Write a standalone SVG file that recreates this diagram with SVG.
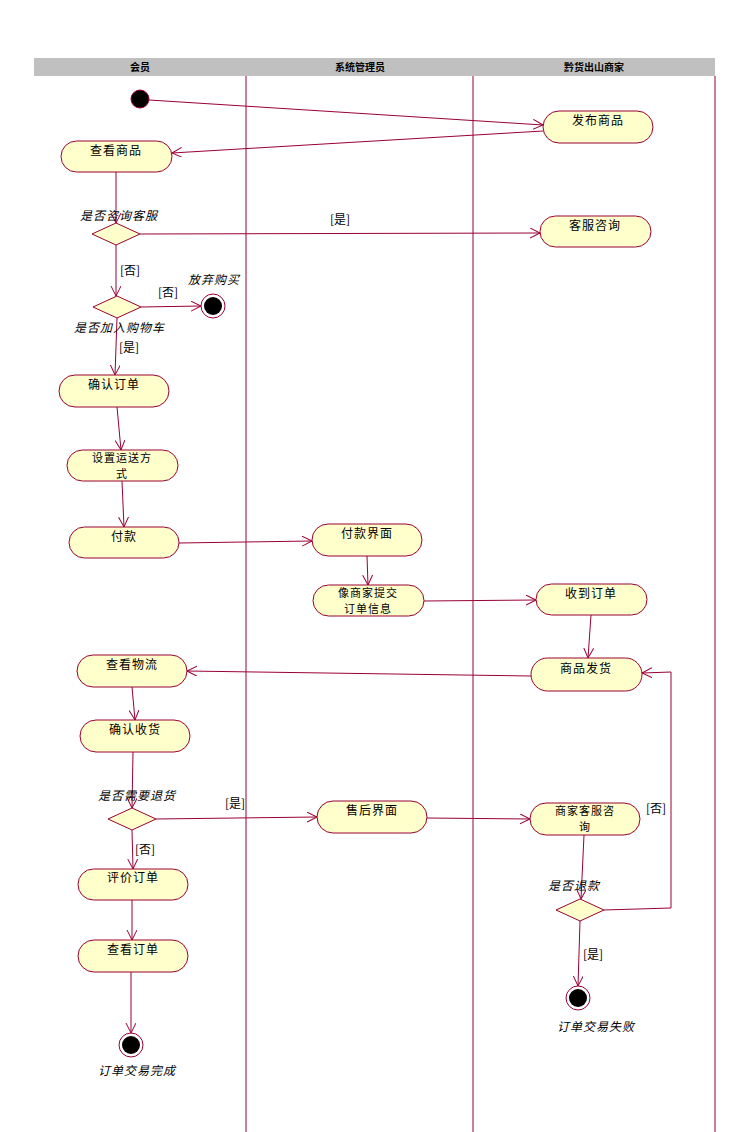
<svg xmlns="http://www.w3.org/2000/svg" width="750" height="1132" viewBox="0 0 750 1132">
<style>
text{font-family:"Noto Sans CJK SC","Liberation Sans",sans-serif;fill:#000}
.n{fill:#ffffcc;stroke:#990033;stroke-width:1}
.t{font-size:12px;text-anchor:middle;letter-spacing:1px}
.t2{font-size:11px;text-anchor:middle;letter-spacing:1px}
.h{font-size:10px;font-weight:bold;text-anchor:middle}
.i{font-size:12px;font-style:italic;letter-spacing:1px}
.l{font-size:12px}
.e{fill:none;stroke:#990033;stroke-width:1;marker-end:url(#a)}
.lane{stroke:#990033;stroke-width:1}
</style>
<defs>
<marker id="a" markerWidth="12" markerHeight="12" refX="10" refY="5" orient="auto" markerUnits="userSpaceOnUse">
<path d="M0,0 L10,5 L0,10" fill="none" stroke="#990033"/>
</marker>
</defs>
<rect width="750" height="1132" fill="#fff"/>
<g id="lanes">
<rect x="34" y="58" width="681" height="18" fill="#c0c0c0"/>
<text class="h" x="140" y="71">会员</text>
<text class="h" x="360" y="71">系统管理员</text>
<text class="h" x="594" y="71">黔货出山商家</text>
<line class="lane" x1="246" y1="76" x2="246" y2="1132"/>
<line class="lane" x1="473" y1="76" x2="473" y2="1132"/>
<line class="lane" x1="715" y1="76" x2="715" y2="1132"/>
</g>
<g id="connectors">
<path class="e" d="M149,100 L543,125"/>
<path class="e" d="M543,131 L172,153"/>
<path class="e" d="M116,172 L116,223"/>
<path class="e" d="M140,234 L540,233"/>
<path class="e" d="M116,245 L116,296"/>
<path class="e" d="M141,307 L201,306"/>
<path class="e" d="M117,318 L115,375"/>
<path class="e" d="M117,407 L121,450"/>
<path class="e" d="M122,481 L124,527"/>
<path class="e" d="M179,543 L312,541"/>
<path class="e" d="M367,556 L368,585"/>
<path class="e" d="M424,601 L536,600"/>
<path class="e" d="M591,615 L588,658"/>
<path class="e" d="M531,676 L187,671"/>
<path class="e" d="M132,687 L135,720"/>
<path class="e" d="M133,752 L132,808"/>
<path class="e" d="M156,819 L317,817"/>
<path class="e" d="M427,818 L530,819"/>
<path class="e" d="M132,830 L133,869"/>
<path class="e" d="M584,835 L581,899"/>
<path class="e" d="M604,910 L671,908 L671,672 L642,673"/>
<path class="e" d="M580,921 L578,986"/>
<path class="e" d="M132,900 L132,940"/>
<path class="e" d="M131,972 L131,1033"/>
<text class="l" x="330" y="224">[是]</text>
<text class="l" x="120" y="275">[否]</text>
<text class="l" x="158" y="297">[否]</text>
<text class="l" x="119" y="352">[是]</text>
<text class="l" x="225" y="808">[是]</text>
<text class="l" x="135" y="854">[否]</text>
<text class="l" x="646" y="813">[否]</text>
<text class="l" x="583" y="959">[是]</text>
</g>
<g id="start"><circle cx="140" cy="99" r="9" fill="#000" stroke="#990033"/></g>
<g id="n1"><rect class="n" x="61" y="141" width="111" height="31" rx="15.5"/><text class="t" x="116" y="155">查看商品</text></g>
<g id="n2"><rect class="n" x="543" y="111" width="110" height="32" rx="16"/><text class="t" x="598" y="125">发布商品</text></g>
<g id="n3"><rect class="n" x="540" y="216" width="111" height="31" rx="15.5"/><text class="t" x="595" y="230">客服咨询</text></g>
<g id="d1"><polygon class="n" points="92,234 116,223 140,234 116,245"/><text class="i" x="80" y="220">是否咨询客服</text></g>
<g id="d2"><polygon class="n" points="93,307 117,296 141,307 117,318"/><text class="i" x="74" y="332">是否加入购物车</text></g>
<g id="f1"><circle cx="213" cy="306" r="12" fill="#fff" stroke="#990033"/><circle cx="213" cy="306" r="9" fill="#000"/><text class="i" x="188" y="284">放弃购买</text></g>
<g id="n4"><rect class="n" x="59" y="375" width="110" height="32" rx="16"/><text class="t" x="114" y="389">确认订单</text></g>
<g id="n5"><rect class="n" x="67" y="450" width="111" height="31" rx="15.5"/><text class="t2" x="122" y="462">设置运送方</text><text class="t2" x="122" y="478">式</text></g>
<g id="n6"><rect class="n" x="69" y="527" width="110" height="31" rx="15.5"/><text class="t" x="124" y="541">付款</text></g>
<g id="n7"><rect class="n" x="312" y="524" width="110" height="32" rx="16"/><text class="t" x="367" y="538">付款界面</text></g>
<g id="n8"><rect class="n" x="313" y="585" width="111" height="31" rx="15.5"/><text class="t2" x="368" y="597">像商家提交</text><text class="t2" x="368" y="613">订单信息</text></g>
<g id="n9"><rect class="n" x="536" y="584" width="111" height="31" rx="15.5"/><text class="t" x="591" y="598">收到订单</text></g>
<g id="n10"><rect class="n" x="77" y="655" width="110" height="32" rx="16"/><text class="t" x="132" y="669">查看物流</text></g>
<g id="n11"><rect class="n" x="531" y="658" width="111" height="33" rx="16.5"/><text class="t" x="586" y="673">商品发货</text></g>
<g id="n12"><rect class="n" x="80" y="720" width="110" height="32" rx="16"/><text class="t" x="135" y="734">确认收货</text></g>
<g id="d3"><polygon class="n" points="108,819 132,808 156,819 132,830"/><text class="i" x="98" y="800">是否需要退货</text></g>
<g id="n13"><rect class="n" x="317" y="801" width="110" height="32" rx="16"/><text class="t" x="372" y="815">售后界面</text></g>
<g id="n14"><rect class="n" x="530" y="803" width="110" height="32" rx="16"/><text class="t2" x="585" y="815">商家客服咨</text><text class="t2" x="585" y="831">询</text></g>
<g id="n15"><rect class="n" x="78" y="869" width="110" height="31" rx="15.5"/><text class="t" x="133" y="882">评价订单</text></g>
<g id="d4"><polygon class="n" points="556,910 580,899 604,910 580,921"/><text class="i" x="548" y="890">是否退款</text></g>
<g id="n16"><rect class="n" x="78" y="940" width="110" height="32" rx="16"/><text class="t" x="133" y="954">查看订单</text></g>
<g id="f2"><circle cx="131" cy="1045" r="12" fill="#fff" stroke="#990033"/><circle cx="131" cy="1045" r="9" fill="#000"/><text class="i" x="98" y="1075">订单交易完成</text></g>
<g id="f3"><circle cx="578" cy="998" r="12" fill="#fff" stroke="#990033"/><circle cx="578" cy="998" r="9" fill="#000"/><text class="i" x="557" y="1031">订单交易失败</text></g>
</svg>
